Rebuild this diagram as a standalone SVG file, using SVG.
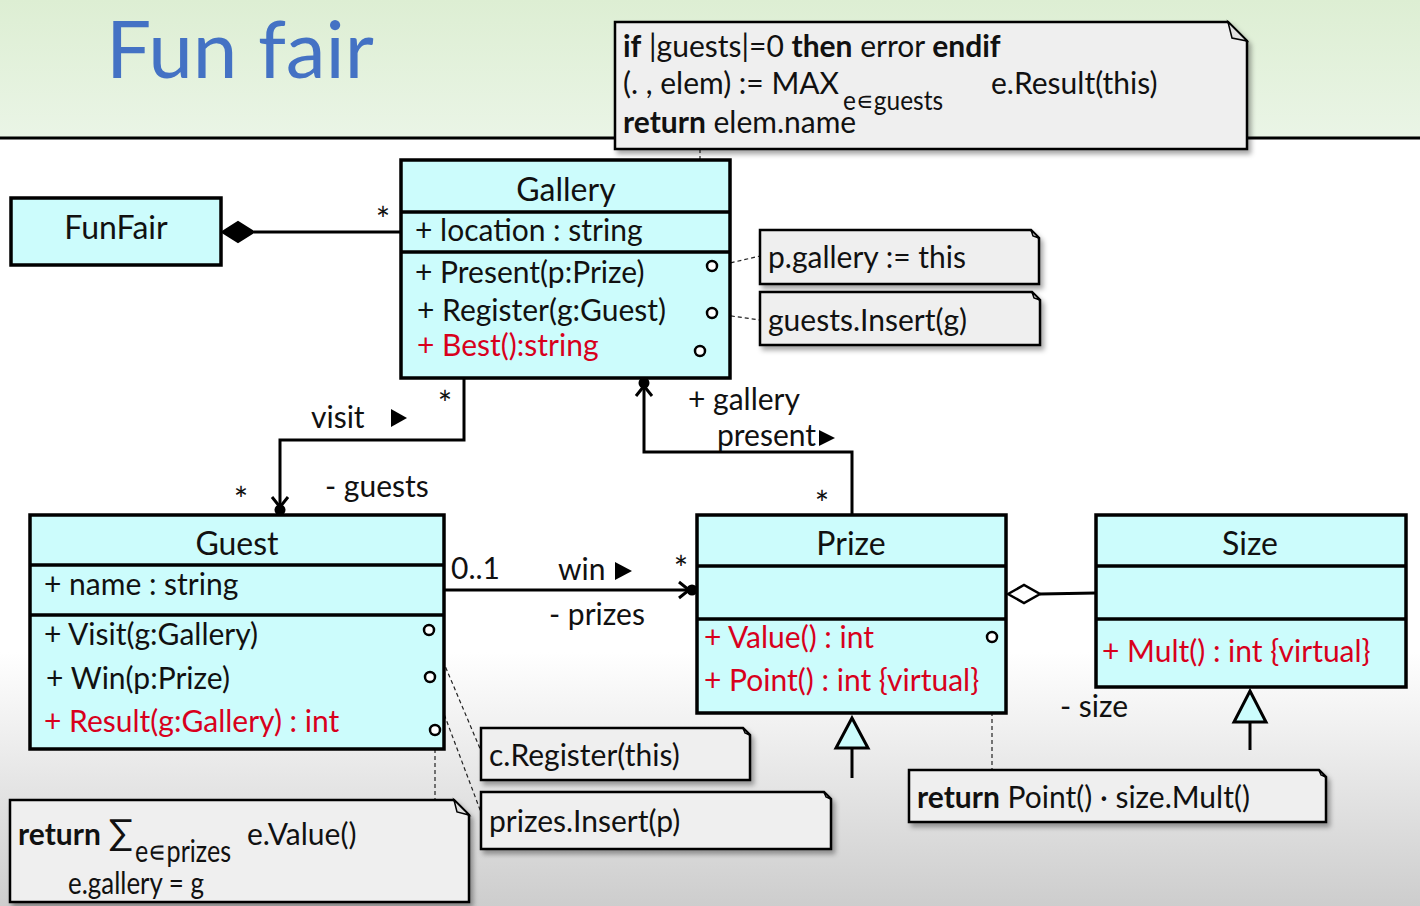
<svg xmlns="http://www.w3.org/2000/svg" width="1420" height="906" viewBox="0 0 1420 906">
<defs>
<linearGradient id="hdr" x1="0" y1="0" x2="0" y2="1"><stop offset="0" stop-color="#ddeed3"/><stop offset="1" stop-color="#eaf5e6"/></linearGradient>
<linearGradient id="bg" x1="0" y1="0" x2="0" y2="1"><stop offset="0" stop-color="#ffffff"/><stop offset="0.72" stop-color="#ffffff"/><stop offset="1" stop-color="#cdcdcd"/></linearGradient>
<filter id="sh" x="-5%" y="-5%" width="115%" height="130%"><feDropShadow dx="3" dy="4" stdDeviation="2.5" flood-color="#000" flood-opacity="0.35"/></filter>
<marker id="nav" markerUnits="userSpaceOnUse" markerWidth="32" markerHeight="24" viewBox="0 0 32 24" refX="26" refY="12" orient="auto">
<path d="M8,4 L18,12 L8,20" fill="none" stroke="#000" stroke-width="3"/>
<circle cx="21" cy="12" r="5.5" fill="#000"/>
</marker>
<style>
.t{font-family:Lato,"Open Sans","Liberation Sans",sans-serif;font-size:30px;fill:#111}
.n{font-size:32px}
.sub{font-size:26px}
.st{font-size:34px;text-anchor:middle}
.c{text-anchor:middle}
.red{fill:#d8001c}
.b{font-weight:bold}
.box{fill:#ccfcfc;stroke:#000;stroke-width:3.5}
.div{stroke:#000;stroke-width:3.5}
.line{fill:none;stroke:#000;stroke-width:3}
.note{fill:#efefef;stroke:#000;stroke-width:2.5;filter:url(#sh)}
.fold{fill:#e0e0e0;stroke:#000;stroke-width:1.5}
.dash{fill:none;stroke:#222;stroke-width:1.2;stroke-dasharray:4 3}
.port{fill:#fff;stroke:#000;stroke-width:2.5}
.gen{fill:#ccfcfc;stroke:#000;stroke-width:3}
</style>
</defs>
<rect x="0" y="0" width="1420" height="906" fill="url(#bg)"/>
<rect x="0" y="0" width="1420" height="138" fill="url(#hdr)"/>
<line x1="0" y1="138" x2="1420" y2="138" stroke="#000" stroke-width="3"/>
<text x="106" y="78" font-family="Lato,'Open Sans',sans-serif" font-size="80" fill="#4472c4">Fun fair</text>

<g id="connectors">
<line class="dash" x1="700" y1="149" x2="700" y2="346"/>
<line class="dash" x1="717" y1="266" x2="760" y2="256"/>
<line class="dash" x1="717" y1="314" x2="760" y2="320"/>
<line class="dash" x1="432" y1="635" x2="484" y2="758"/>
<line class="dash" x1="432" y1="682" x2="482" y2="815"/>
<line class="dash" x1="435" y1="735" x2="435" y2="800"/>
<line class="dash" x1="992" y1="642" x2="992" y2="770"/>
<!-- composition -->
<line class="line" x1="254" y1="232" x2="401" y2="232"/>
<path d="M222,232 L238,222 L254,232 L238,242 Z" fill="#000" stroke="#000" stroke-width="2"/>
<text class="t st" x="383" y="232">*</text>
<!-- visit -->
<path class="line" d="M464,378 V440 H280 V515" marker-end="url(#nav)"/>
<text class="t st" x="445" y="416">*</text>
<text class="t" x="311" y="428">visit</text>
<path d="M391,409 L407,418 L391,427 Z" fill="#000"/>
<text class="t st" x="241" y="512">*</text>
<text class="t" x="325" y="497">- guests</text>
<!-- present -->
<path class="line" d="M852,515 V452 H644 V378" marker-end="url(#nav)"/>
<text class="t" x="688" y="410">+ gallery</text>
<text class="t" x="717" y="446">present</text>
<path d="M819,430 L835,438 L819,446 Z" fill="#000"/>
<text class="t st" x="822" y="516">*</text>
<!-- win -->
<line class="line" x1="444" y1="590" x2="697" y2="590" marker-end="url(#nav)"/>
<text class="t" x="451" y="579">0..1</text>
<text class="t" x="558" y="580">win</text>
<path d="M615,562 L632,571 L615,580 Z" fill="#000"/>
<text class="t st" x="681" y="581">*</text>
<text class="t" x="549" y="625">- prizes</text>
<!-- aggregation -->
<line class="line" x1="1040" y1="594" x2="1096" y2="593"/>
<path d="M1008,594 L1024,585 L1040,594 L1024,603 Z" fill="#fff" stroke="#000" stroke-width="2.5"/>
<text class="t" x="1060" y="717">- size</text>
<!-- generalizations -->
<line class="line" x1="852" y1="748" x2="852" y2="778"/>
<path class="gen" d="M852,718 L868,748 L836,748 Z"/>
<line class="line" x1="1250" y1="722" x2="1250" y2="750"/>
<path class="gen" d="M1250,691 L1266,722 L1234,722 Z"/>
</g>

<g id="note-best">
<path class="note" d="M615,22 H1228 L1247,41 V149 H615 Z"/>
<path class="fold" d="M1228,22 L1232,38 L1247,41 Z"/>
<text class="t" x="623" y="57"><tspan class="b">if</tspan> |guests|=0 <tspan class="b">then</tspan> error <tspan class="b">endif</tspan></text>
<text class="t" x="623" y="94">(. , elem) := MAX</text>
<text class="t sub" x="843" y="110" textLength="100" lengthAdjust="spacingAndGlyphs">e∊guests</text>
<text class="t" x="991" y="94">e.Result(this)</text>
<text class="t" x="623" y="133"><tspan class="b">return</tspan> elem.name</text>
</g>

<g id="FunFair">
<rect class="box" x="11" y="198" width="210" height="67"/>
<text class="t c n" x="116" y="239">FunFair</text>
</g>

<g id="Gallery">
<rect class="box" x="401" y="160" width="329" height="218"/>
<line class="div" x1="401" y1="212" x2="730" y2="212"/>
<line class="div" x1="401" y1="252" x2="730" y2="252"/>
<text class="t c n" x="566" y="201">Gallery</text>
<text class="t" x="415" y="241">+ location : string</text>
<text class="t" x="415" y="283">+ Present(p:Prize)</text>
<text class="t" x="417" y="321">+ Register(g:Guest)</text>
<text class="t red" x="417" y="356">+ Best():string</text>
<circle class="port" cx="712" cy="266" r="5"/>
<circle class="port" cx="712" cy="313" r="5"/>
<circle class="port" cx="700" cy="351" r="5"/>
</g>

<g id="note-present">
<path class="note" d="M760,230 H1031 L1039,238 V284 H760 Z"/>
<path class="fold" d="M1031,230 L1033,236 L1039,238 Z"/>
<text class="t" x="768" y="268">p.gallery := this</text>
</g>
<g id="note-register">
<path class="note" d="M760,292 H1032 L1040,300 V345 H760 Z"/>
<path class="fold" d="M1032,292 L1034,298 L1040,300 Z"/>
<text class="t" x="768" y="331">guests.Insert(g)</text>
</g>

<g id="Guest">
<rect class="box" x="30" y="515" width="414" height="234"/>
<line class="div" x1="30" y1="565" x2="444" y2="565"/>
<line class="div" x1="30" y1="615" x2="444" y2="615"/>
<text class="t c n" x="237" y="555">Guest</text>
<text class="t" x="44" y="595">+ name : string</text>
<text class="t" x="44" y="645">+ Visit(g:Gallery)</text>
<text class="t" x="46" y="689">+ Win(p:Prize)</text>
<text class="t red" x="44" y="732">+ Result(g:Gallery) : int</text>
<circle class="port" cx="429" cy="630" r="5"/>
<circle class="port" cx="430" cy="677" r="5"/>
<circle class="port" cx="435" cy="730" r="5"/>
</g>

<g id="Prize">
<rect class="box" x="697" y="515" width="309" height="198"/>
<line class="div" x1="697" y1="566" x2="1006" y2="566"/>
<line class="div" x1="697" y1="619" x2="1006" y2="619"/>
<text class="t c n" x="851" y="555">Prize</text>
<text class="t red" x="704" y="648">+ Value() : int</text>
<text class="t red" x="704" y="691">+ Point() : int {virtual}</text>
<circle class="port" cx="992" cy="637" r="5"/>
</g>

<g id="Size">
<rect class="box" x="1096" y="515" width="310" height="172"/>
<line class="div" x1="1096" y1="566" x2="1406" y2="566"/>
<line class="div" x1="1096" y1="619" x2="1406" y2="619"/>
<text class="t c n" x="1250" y="555">Size</text>
<text class="t red" x="1102" y="662">+ Mult() : int {virtual}</text>
</g>

<g id="note-visit">
<path class="note" d="M481,728 H743 L750,735 V780 H481 Z"/>
<path class="fold" d="M743,728 L745,733 L750,735 Z"/>
<text class="t" x="489" y="766">c.Register(this)</text>
</g>
<g id="note-win">
<path class="note" d="M481,792 H824 L831,799 V849 H481 Z"/>
<path class="fold" d="M824,792 L826,797 L831,799 Z"/>
<text class="t" x="489" y="832">prizes.Insert(p)</text>
</g>
<g id="note-result">
<path class="note" d="M10,800 H454 L469,815 V902 H10 Z"/>
<path class="fold" d="M454,800 L457,812 L469,815 Z"/>
<text class="t" x="18" y="845"><tspan class="b">return</tspan> <tspan font-size="36">∑</tspan></text>
<text class="t" x="135" y="862" font-size="24" textLength="96" lengthAdjust="spacingAndGlyphs">e∊prizes</text>
<text class="t" x="247" y="845">e.Value()</text>
<text class="t" x="68" y="894" font-size="24" textLength="136" lengthAdjust="spacingAndGlyphs">e.gallery = g</text>
</g>
<g id="note-value">
<path class="note" d="M909,770 H1319 L1326,777 V822 H909 Z"/>
<path class="fold" d="M1319,770 L1321,775 L1326,777 Z"/>
<text class="t" x="917" y="808"><tspan class="b">return</tspan> Point() · size.Mult()</text>
</g>
</svg>
